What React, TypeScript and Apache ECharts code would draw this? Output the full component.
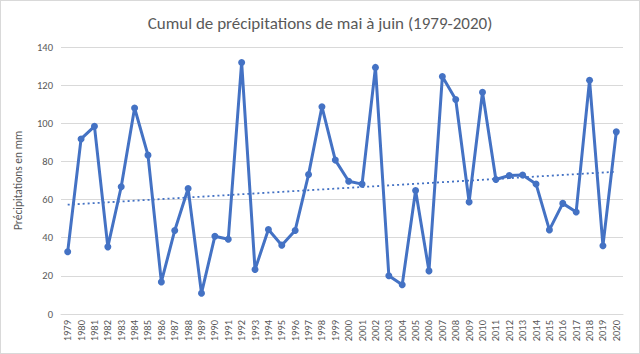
import React, { useEffect, useRef } from "react";
import * as echarts from "echarts";

const years = [
  "1979","1980","1981","1982","1983","1984","1985","1986","1987","1988",
  "1989","1990","1991","1992","1993","1994","1995","1996","1997","1998",
  "1999","2000","2001","2002","2003","2004","2005","2006","2007","2008",
  "2009","2010","2011","2012","2013","2014","2015","2016","2017","2018",
  "2019","2020",
];
const precip = [
  32.6, 91.8, 98.4, 35.2, 66.7, 108, 83.3, 16.8, 43.8, 65.8,
  10.9, 40.8, 39.2, 131.9, 23.3, 44.3, 36.1, 43.8, 73.1, 108.7,
  80.7, 69.6, 68.1, 129.3, 20.1, 15.3, 64.8, 22.6, 124.5, 112.5,
  58.7, 116.3, 70.5, 72.6, 72.9, 68.2, 44.1, 58.0, 53.5, 122.6,
  35.8, 95.5,
];
const trendStart = 57.3;
const trendEnd = 74.6;

export default function App() {
  const ref = useRef<HTMLDivElement>(null);
  useEffect(() => {
    if (!ref.current) return;
    const chart = echarts.init(ref.current, null, { renderer: "svg" });
    const font = "Calibri, Carlito, 'Liberation Sans', 'Open Sans', sans-serif";
    chart.setOption({
      animation: false,
      backgroundColor: "#ffffff",
      textStyle: { fontFamily: font },
      title: {
        text: "Cumul de précipitations de mai à juin (1979-2020)",
        left: "center",
        top: 9,
        textStyle: { fontSize: 17, fontWeight: "normal", color: "#595959", fontFamily: font },
      },
      grid: { left: 60, right: 16, top: 46, bottom: 39 },
      xAxis: {
        type: "category",
        data: years,
        boundaryGap: true,
        axisLine: { lineStyle: { color: "#d9d9d9", width: 1 } },
        axisTick: { show: false },
        axisLabel: { rotate: 90, color: "#595959", fontSize: 10.5, margin: 6, interval: 0, fontFamily: font },
      },
      yAxis: {
        type: "value",
        min: 0,
        max: 140,
        interval: 20,
        name: "Précipitations en mm",
        nameLocation: "middle",
        nameGap: 37,
        nameTextStyle: { color: "#595959", fontSize: 11.5, fontFamily: font },
        axisLine: { show: false },
        axisTick: { show: false },
        axisLabel: { color: "#595959", fontSize: 10.5, margin: 8, fontFamily: font },
        splitLine: { lineStyle: { color: "#d9d9d9", width: 1 } },
      },
      series: [
        {
          type: "line",
          data: precip,
          color: "#4472C4",
          lineStyle: { width: 3, color: "#4472C4" },
          symbol: "circle",
          symbolSize: 7,
          itemStyle: { color: "#4472C4" },
          markLine: {
            silent: true,
            symbol: ["none", "none"],
            label: { show: false },
            lineStyle: { type: [2, 3], width: 1.8, color: "#4472C4" },
            data: [[
              { coord: [years[0], trendStart] },
              { coord: [years[years.length - 1], trendEnd] },
            ]],
          },
        },
      ],
    });
    return () => chart.dispose();
  }, []);
  return (
    <div style={{ position: "fixed", left: 0, top: 0, width: 640, height: 354, boxSizing: "border-box", border: "1px solid #d9d9d9", background: "#fff" }}>
      <div ref={ref} style={{ width: 638, height: 352 }} />
    </div>
  );
}
